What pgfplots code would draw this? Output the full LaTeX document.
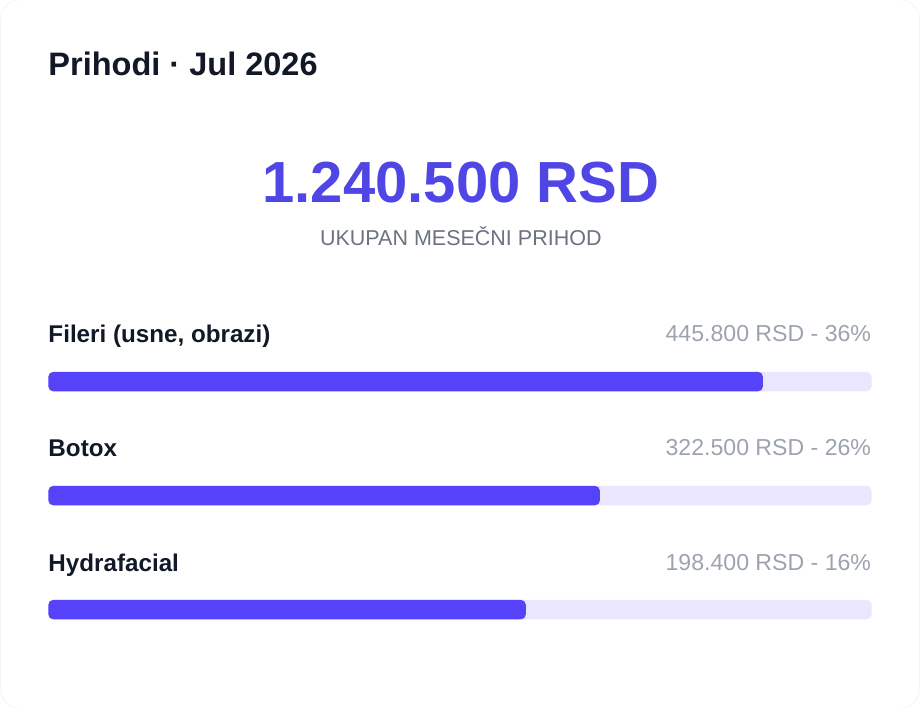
\documentclass[border=0pt]{standalone}
\usepackage{fontspec}
\setmainfont{Liberation Sans}
\usepackage{pgfplots}
\pgfplotsset{compat=1.18}
\definecolor{txtdark}{HTML}{111827}
\definecolor{accent}{HTML}{4F46E5}
\definecolor{subgray}{HTML}{6B7280}
\definecolor{valgray}{HTML}{9CA3AF}
\definecolor{barfill}{RGB}{86,66,248}
\definecolor{track}{RGB}{234,230,253}
\definecolor{cardline}{HTML}{F5F5F7}
\begin{document}
\begin{tikzpicture}
\begin{axis}[
  name=ax,
  scale only axis, width=920pt, height=708pt,
  xmin=-5.866, xmax=105.87, ymin=0, ymax=708,
  y dir=reverse, hide axis, clip=false,
]
% card outline
\draw[cardline, line width=1pt, rounded corners=20pt]
  (rel axis cs:0,0) ++(0.5pt,-0.5pt) rectangle ([xshift=-0.5pt,yshift=0.5pt]rel axis cs:1,1);
% tracks
\addplot[xbar, bar width=19.5, bar shift=0pt, fill=track, draw=none, rounded corners=5pt]
  coordinates {(100,381.6) (100,495.6) (100,609.6)};
% fills
\addplot[xbar, bar width=19.5, bar shift=0pt, fill=barfill, draw=none, rounded corners=5pt]
  coordinates {(86.8,381.6) (67.0,495.6) (58.0,609.6)};
% texts
\node[anchor=base west, inner sep=0pt, txtdark, font=\fontsize{32.5}{36}\selectfont\bfseries]
  at (axis cs:0,76) {Prihodi · Jul 2026};
\node[anchor=base, inner sep=0pt, accent, font=\fontsize{58}{62}\selectfont\bfseries]
  at (axis cs:50.1,203) {1.240.500 RSD};
\node[anchor=base, inner sep=0pt, subgray, font=\fontsize{21.5}{24}\selectfont]
  at (axis cs:50.1,246) {UKUPAN MESEČNI PRIHOD};
\node[anchor=base west, inner sep=0pt, txtdark, font=\fontsize{24.2}{28}\selectfont\bfseries]
  at (axis cs:0,342.5) {Fileri (usne, obrazi)};
\node[anchor=base west, inner sep=0pt, txtdark, font=\fontsize{24.2}{28}\selectfont\bfseries]
  at (axis cs:0,456.5) {Botox};
\node[anchor=base west, inner sep=0pt, txtdark, font=\fontsize{24.2}{28}\selectfont\bfseries]
  at (axis cs:0,571) {Hydrafacial};
\node[anchor=base east, inner sep=0pt, valgray, font=\fontsize{23.1}{26}\selectfont]
  at (axis cs:99.95,341) {445.800 RSD - 36\%};
\node[anchor=base east, inner sep=0pt, valgray, font=\fontsize{23.1}{26}\selectfont]
  at (axis cs:99.95,455) {322.500 RSD - 26\%};
\node[anchor=base east, inner sep=0pt, valgray, font=\fontsize{23.1}{26}\selectfont]
  at (axis cs:99.95,570) {198.400 RSD - 16\%};
\end{axis}
\pgfresetboundingbox
\path[use as bounding box] (ax.south west) rectangle (ax.north east);
\end{tikzpicture}
\end{document}
